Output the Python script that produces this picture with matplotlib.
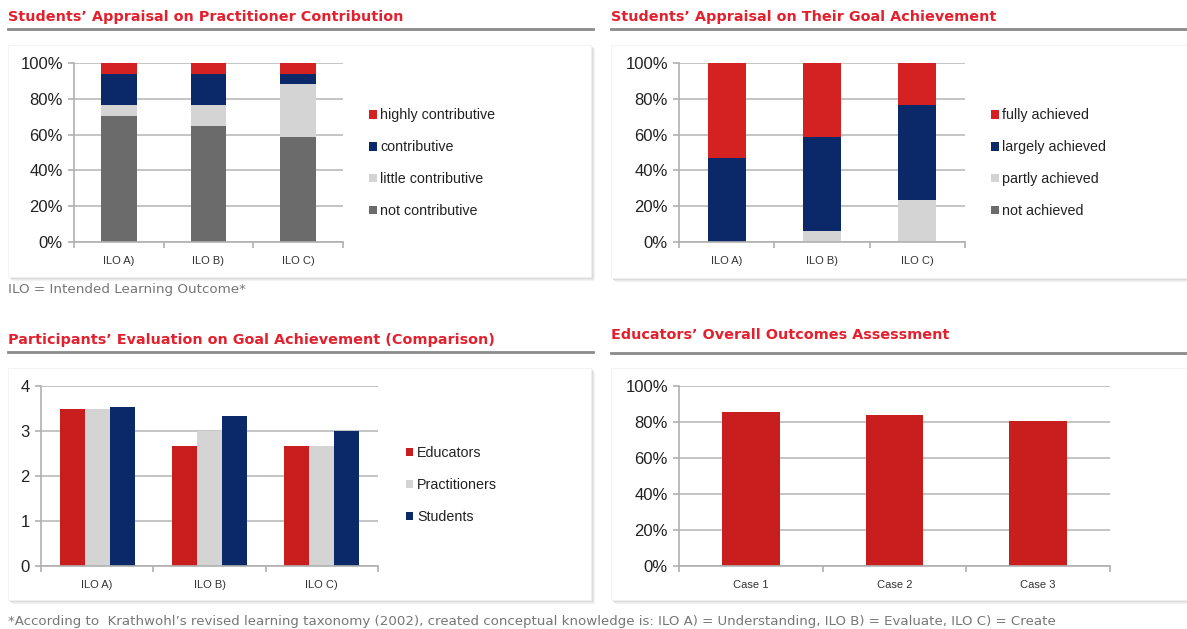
import matplotlib.pyplot as plt
from matplotlib.patches import Rectangle
import numpy as np

W, H = 1187, 629

# data (shares of 17 answers, scores, percentages)
ilos = ["ILO A)", "ILO B)", "ILO C)"]

contrib_labels = ["not contributive", "little contributive", "contributive", "highly contributive"]
not_contrib = [70.6, 64.7, 58.8]
little_contrib = [5.9, 11.8, 29.4]
contributive = [17.6, 17.6, 5.9]
highly_contrib = [5.9, 5.9, 5.9]

goal_labels = ["not achieved", "partly achieved", "largely achieved", "fully achieved"]
not_achieved = [0.0, 0.0, 0.0]
partly_achieved = [0.0, 5.9, 23.5]
largely_achieved = [47.1, 52.9, 52.9]
fully_achieved = [52.9, 41.2, 23.5]

groups = ["Educators", "Practitioners", "Students"]
educators = [3.5, 2.67, 2.67]
practitioners = [3.5, 3.0, 2.67]
students = [3.53, 3.33, 3.0]

cases = ["Case 1", "Case 2", "Case 3"]
overall = [85.7, 83.7, 80.7]

RED = "#d42222"
RED2 = "#c81e1e"
NAVY = "#0b2869"
LGRAY = "#d4d4d4"
DGRAY = "#6b6b6b"
TITLE_RED = "#e2202e"
GRID = "#c4c4c4"
SANS = "Liberation Sans"

fig = plt.figure(figsize=(W / 100, H / 100), dpi=100)


def box(l, t, r, b):
    # pixel box -> figure fraction
    return [l / W, 1 - b / H, (r - l) / W, (b - t) / H]


def panel_frame(title, x0, x1, ty, ly, bt, bb):
    fig.text(x0 / W, 1 - ty / H, title, color=TITLE_RED, fontsize=10.4,
             fontweight="bold", family="DejaVu Sans", va="center", ha="left")
    fig.add_artist(plt.Line2D([x0 / W, x1 / W], [1 - ly / H, 1 - ly / H],
                              color="#8a8a8a", lw=2))
    # soft shadow behind a white card
    for off, c in [(4, "#f2f2f2"), (3, "#e8e8e8"), (2, "#dcdcdc")]:
        fig.add_artist(Rectangle(((x0 + off) / W, 1 - (bb + off) / H),
                                 (x1 - x0 - 2) / W, (bb - bt) / H,
                                 transform=fig.transFigure, color=c, lw=0, zorder=0))
    fig.add_artist(Rectangle((x0 / W, 1 - bb / H), (x1 - x0 - 2) / W, (bb - bt) / H,
                             transform=fig.transFigure, facecolor="white",
                             edgecolor="#f0f0f0", lw=0.5, zorder=0))


def style(ax, yticks, ylabels, ylim):
    ax.set_xlim(-0.5, 2.5)
    ax.set_ylim(*ylim)
    ax.set_yticks(yticks)
    ax.set_yticklabels(ylabels, family=SANS, fontsize=12, color="#222222")
    ax.yaxis.grid(True, color=GRID, lw=1.4)
    ax.set_axisbelow(True)
    for s in ["top", "right"]:
        ax.spines[s].set_visible(False)
    for s in ["left", "bottom"]:
        ax.spines[s].set_color("#b0b0b0")
        ax.spines[s].set_linewidth(1.2)
    ax.set_xticks([-0.5, 0.5, 1.5, 2.5])
    ax.set_xticklabels([])
    ax.set_xticks([0, 1, 2], minor=True)
    ax.tick_params(axis="x", which="major", length=4, color="#b0b0b0", width=1.2)
    ax.tick_params(axis="x", which="minor", length=0, pad=10)
    ax.tick_params(axis="y", length=4, color="#b0b0b0", width=1.2, pad=4)
    ax.patch.set_alpha(0)


def legend(ax, handles, labels, anchor, fs=10.3):
    lg = ax.legend(handles, labels, loc="center left", bbox_to_anchor=anchor,
                   frameon=False, handlelength=0.55, handleheight=0.55,
                   handletextpad=0.25, labelspacing=1.25, borderaxespad=0,
                   prop={"family": SANS, "size": fs})
    for t in lg.get_texts():
        t.set_color("#222222")


pct_ticks = [0, 20, 40, 60, 80, 100]
pct_labels = [f"{v}%" for v in pct_ticks]
x = np.arange(3)

# panel 1
panel_frame("Students\u2019 Appraisal on Practitioner Contribution", 8, 593, 17, 29, 45, 277)
ax1 = fig.add_axes(box(74, 63, 343, 242))
style(ax1, pct_ticks, pct_labels, (0, 100))
bottom = np.zeros(3)
hs = []
for vals, col in zip([not_contrib, little_contrib, contributive, highly_contrib],
                     [DGRAY, LGRAY, NAVY, RED]):
    hs.append(ax1.bar(x, vals, 0.4, bottom=bottom, color=col, zorder=2))
    bottom += np.array(vals)
ax1.set_xticklabels(ilos, minor=True, family=SANS, fontsize=8, color="#333333")
legend(ax1, hs[::-1], contrib_labels[::-1], (1.075, 0.44))
fig.text(8 / W, 1 - 289 / H, "ILO = Intended Learning Outcome*", color="#777777",
         fontsize=9.7, family="DejaVu Sans", va="center")

# panel 2
panel_frame("Students\u2019 Appraisal on Their Goal Achievement", 611, 1189, 17, 29, 45, 278)
ax2 = fig.add_axes(box(679, 63, 965, 242))
style(ax2, pct_ticks, pct_labels, (0, 100))
bottom = np.zeros(3)
hs = []
for vals, col in zip([not_achieved, partly_achieved, largely_achieved, fully_achieved],
                     [DGRAY, LGRAY, NAVY, RED]):
    hs.append(ax2.bar(x, vals, 0.4, bottom=bottom, color=col, zorder=2))
    bottom += np.array(vals)
ax2.set_xticklabels(ilos, minor=True, family=SANS, fontsize=8, color="#333333")
legend(ax2, hs[::-1], goal_labels[::-1], (1.07, 0.44))

# panel 3
panel_frame("Participants\u2019 Evaluation on Goal Achievement (Comparison)", 8, 593, 340, 352, 368, 600)
ax3 = fig.add_axes(box(41, 386, 378, 566))
style(ax3, [0, 1, 2, 3, 4], ["0", "1", "2", "3", "4"], (0, 4))
bw = 0.222
hs = []
for i, (vals, col) in enumerate(zip([educators, practitioners, students], [RED2, LGRAY, NAVY])):
    hs.append(ax3.bar(x + (i - 1) * bw, vals, bw, color=col, zorder=2))
ax3.set_xticklabels(ilos, minor=True, family=SANS, fontsize=8, color="#333333")
legend(ax3, hs, groups, (1.065, 0.45))

# panel 4
panel_frame("Educators\u2019 Overall Outcomes Assessment", 611, 1189, 335, 353, 368, 600)
ax4 = fig.add_axes(box(679, 386, 1110, 566))
style(ax4, pct_ticks, pct_labels, (0, 100))
ax4.bar(x, overall, 0.4, color=RED2, zorder=2)
ax4.set_xticklabels(cases, minor=True, family=SANS, fontsize=8, color="#333333")

fig.text(8 / W, 1 - 621 / H,
         "*According to  Krathwohl\u2019s revised learning taxonomy (2002), created conceptual "
         "knowledge is: ILO A) = Understanding, ILO B) = Evaluate, ILO C) = Create",
         color="#777777", fontsize=9.6, family="DejaVu Sans", va="center")

fig.savefig("out.png", dpi=100)
